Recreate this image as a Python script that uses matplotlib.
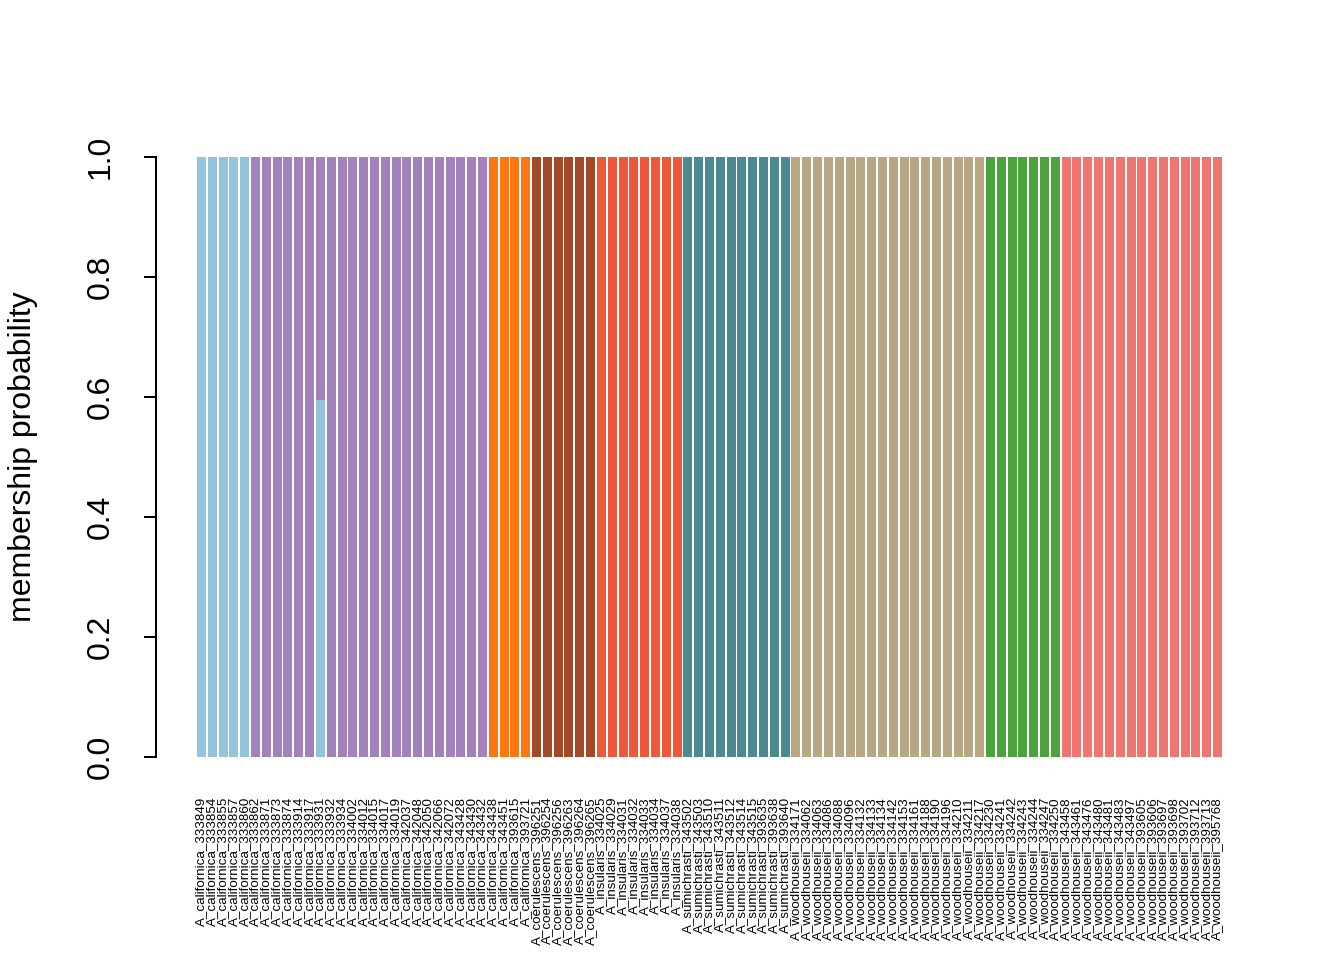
import numpy as np
import matplotlib.pyplot as plt

plt.rcParams['font.family'] = ['Liberation Sans', 'DejaVu Sans']

# sample names, grouped by species
californica = ['333849', '333854', '333855', '333857', '333860', '333862', '333871',
               '333873', '333874', '333914', '333917', '333931', '333932', '333934',
               '334002', '334012', '334015', '334017', '334019', '342037', '342048',
               '342050', '342066', '342072', '343428', '343430', '343432', '343438',
               '343451', '393615', '393721']
coerulescens = ['396251', '396254', '396256', '396263', '396264', '396265']
insularis = ['334025', '334029', '334031', '334032', '334033', '334034', '334037', '334038']
sumichrasti = ['343502', '343503', '343510', '343511', '343512', '343514', '343515',
               '393635', '393638', '393640']
woodhouseii = ['334171', '334062', '334063', '334086', '334088', '334096', '334132',
               '334133', '334134', '334142', '334153', '334161', '334188', '334190',
               '334196', '334210', '334211', '334217', '334230', '334241', '334242',
               '334243', '334244', '334247', '334250', '343458', '343461', '343476',
               '343480', '343481', '343483', '343497', '393605', '393606', '393697',
               '393698', '393702', '393712', '393713', '395768']

labels = (['A_californica_' + s for s in californica] +
          ['A_coerulescens_' + s for s in coerulescens] +
          ['A_insularis_' + s for s in insularis] +
          ['A_sumichrasti_' + s for s in sumichrasti] +
          ['A_woodhouseii_' + s for s in woodhouseii])

cluster_colors = ['#93C4DC', '#A381BD', '#FC7712', '#A24A27', '#EE583A',
                  '#4A8A90', '#B8A784', '#4CA23C', '#F07470']

# main cluster of each sample (in plotting order)
main_cluster = ([0] * 5 + [1] * 22 + [2] * 4 + [3] * 6 + [4] * 8 +
                [5] * 10 + [6] * 18 + [7] * 7 + [8] * 15)
# admixed samples: index -> {cluster: probability}
mixed = {11: {0: 0.595, 1: 0.405}}

n = len(labels)
k = len(cluster_colors)
q = np.zeros((k, n))
for i, c in enumerate(main_cluster):
    q[c, i] = 1.0
for i, probs in mixed.items():
    q[:, i] = 0
    for c, p in probs.items():
        q[c, i] = p

fig = plt.figure(figsize=(7, 5), dpi=192)
ax = fig.add_axes([156 / 1344, 179 / 960, 1107 / 1344, 648 / 960])

# R barplot style positions: width 1, space 0.2
x = 0.7 + 1.2 * np.arange(n)
bottom = np.zeros(n)
for c in range(k):
    ax.bar(x, q[c], width=1.0, bottom=bottom, color=cluster_colors[c], linewidth=0)
    bottom += q[c]

ax.set_xlim(-4.352, 118.552)
ax.set_ylim(-0.04, 1.04)

for s in ['top', 'right', 'bottom']:
    ax.spines[s].set_visible(False)
ax.spines['left'].set_bounds(0, 1)
ax.spines['left'].set_linewidth(0.75)

ax.set_yticks(np.arange(0, 1.01, 0.2))
ax.set_yticklabels(['0.0', '0.2', '0.4', '0.6', '0.8', '1.0'], rotation=90,
                   va='center', fontsize=12)
ax.tick_params(axis='y', length=4.5, width=0.75, pad=10.5)

ax.set_xticks(x)
ax.set_xticklabels(labels, rotation=90, fontsize=5, va='top', ha='center')
ax.tick_params(axis='x', length=0, pad=6)

fig.text(23 / 1344, 1 - 457 / 960, 'membership probability', rotation=90,
         ha='center', va='center', fontsize=12)

fig.savefig('out.png', dpi=192)
